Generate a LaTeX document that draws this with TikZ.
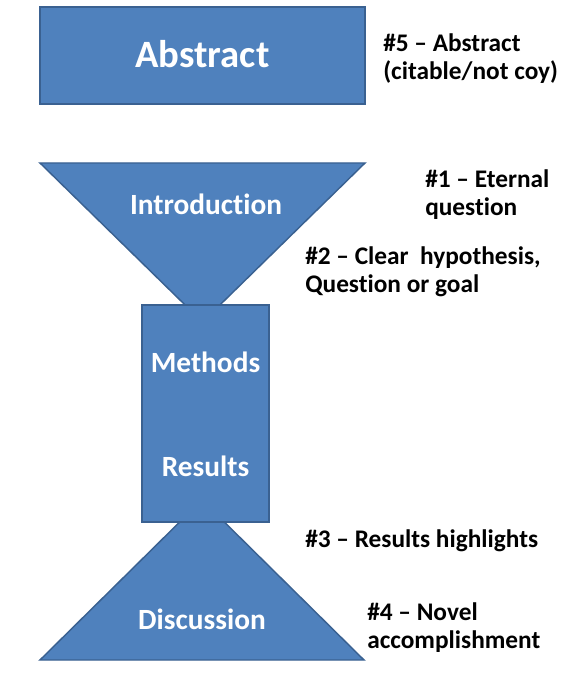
\documentclass[tikz,border=0pt]{standalone}
\usepackage{fontspec}
\setmainfont{Carlito}[Ligatures=NoCommon]
\definecolor{boxblue}{HTML}{4F81BD}
\definecolor{boxedge}{HTML}{3A6191}
\tikzset{
  px/.style={x=0.75pt,y=-0.75pt},
  blueshape/.style={fill=boxblue, draw=boxedge, line width=1.1pt, line join=miter},
  whitelabel/.style={text=white, font=\bfseries\fontsize{22}{26}\selectfont, inner sep=0, anchor=base},
  biglabel/.style={whitelabel, font=\bfseries\fontsize{29}{34}\selectfont},
  note/.style={font=\bfseries\fontsize{19}{21}\selectfont, anchor=base west, inner sep=0, align=left},
}
\begin{document}
\begin{tikzpicture}[px]
\useasboundingbox (0,0) rectangle (566,680);
% shapes
\coordinate (itl) at (40,163);
\coordinate (itr) at (365,163);
\coordinate (iap) at (202.5,322);
\coordinate (dbl) at (40,660);
\coordinate (dbr) at (364,660);
\coordinate (dap) at (202,500);
\path[blueshape] (40,7) rectangle (365,104);
\path[blueshape] (itl) -- (itr) -- (iap) -- cycle;
\path[blueshape] (dbl) -- (dbr) -- (dap) -- cycle;
\path[blueshape] (142,305) rectangle (269,522);
% labels in shapes
\node[biglabel] (abs) at (202.5,68) {Abstract};
\node[whitelabel] (intro) at (206,215) {Introduction};
\node[whitelabel] (meth) at (205.5,372) {Methods};
\node[whitelabel] (res) at (205.5,476) {Results};
\node[whitelabel] (disc) at (202,629) {Discussion};
% notes (base anchor = baseline of last line)
\node[note] (n5) at (383,80) {\#5 – Abstract\\(citable/not coy)};
\node[note] (n1) at (425,216) {\#1 – Eternal\\question};
\node[note] (n2) at (305,293) {\#2 – Clear\ \ hypothesis,\\Question or goal};
\node[note] (n3) at (305,547) {\#3 – Results highlights};
\node[note] (n4) at (367,648) {\#4 – Novel\\accomplishment};
\end{tikzpicture}
\end{document}
